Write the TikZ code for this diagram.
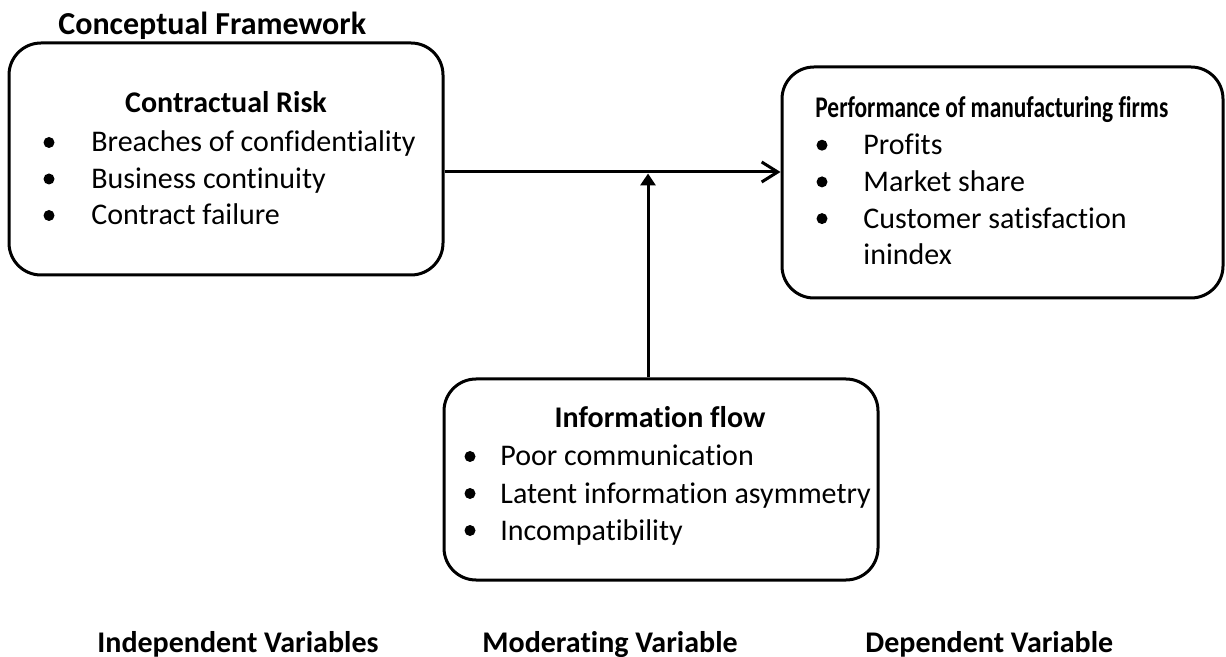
\documentclass[tikz,border=0pt]{standalone}
\usepackage{fontspec}
\setmainfont[Ligatures={NoCommon}]{Carlito}
\usetikzlibrary{arrows.meta}

\begin{document}
\begin{tikzpicture}[
		x=0.5pt, y=-0.5pt,
		every node/.style={font=\fontsize{15}{18}\selectfont},
		box/.style={draw, line width=1.5pt, rounded corners=16pt, inner sep=0pt},
		dot/.style={circle, fill=black, minimum size=5.5pt, inner sep=0pt},
		item/.style={anchor=base west, inner sep=0pt},
		heading/.style={anchor=base, inner sep=0pt, font=\fontsize{15}{18}\selectfont\bfseries},
		caption/.style={anchor=base west, inner sep=0pt, font=\fontsize{15}{18}\selectfont\bfseries},
		link/.style={line width=1.5pt}
		]
		\useasboundingbox (0,0) rectangle (1226,657);
		
		\node[caption, font=\fontsize{16}{19}\selectfont\bfseries] (frame) at (58,35) {Conceptual Framework};
		
		% ---------------------------------------------------------
		% Independent variable: Contractual Risk
		% ---------------------------------------------------------
		\node[box, minimum width=217pt, minimum height=116pt] (risk) at (226,159) {};
		\node[heading] (risk-title) at (226,113) {Contractual Risk};
		\foreach \t [count=\i] in {Breaches of confidentiality, Business continuity, Contract failure} {
			\node[dot] (risk-dot-\i) at (49, 106+36.5*\i) {};
			\node[item] (risk-\i) at (91, 115.5+36.5*\i) {\t};
		}
		
		% ---------------------------------------------------------
		% Dependent variable: Performance
		% ---------------------------------------------------------
		\node[box, minimum width=220.5pt, minimum height=115.5pt] (perf) at (1002.5,182.5) {};
		\node[caption] (perf-title) at (815,118) {\resizebox{176.5pt}{\height}{Performance of manufacturing firms}};
		\foreach \t [count=\i] in {Profits, Market share, Customer satisfaction} {
			\node[dot] (perf-dot-\i) at (822, 108.5+36.7*\i) {};
			\node[item] (perf-\i) at (863, 118+36.7*\i) {\t};
		}
		\node[item] (perf-4) at (863,265) {inindex};
		
		% ---------------------------------------------------------
		% Moderating variable: Information flow
		% ---------------------------------------------------------
		\node[box, minimum width=217pt, minimum height=100.5pt] (flow) at (661,479.5) {};
		\node[heading] (flow-title) at (660,428) {Information flow};
		\foreach \t [count=\i] in {Poor communication, Latent information asymmetry, Incompatibility} {
			\node[dot] (flow-dot-\i) at (470, 419.5+37*\i) {};
			\node[item] (flow-\i) at (500, 429+37*\i) {\t};
		}
		
		% Arrows
		\coordinate (join) at (648,172);
		\draw[link, -{Straight Barb[length=8pt,width=10pt]}] (risk.east |- join) -- (perf.west |- join);
		\draw[link, -{Triangle[length=6pt,width=7.5pt]}, shorten >=0.75pt] (flow.north -| join) -- (join);
		
		% Variable labels
		\node[caption] (indep) at (97,652) {Independent Variables};
		\node[caption] (moder) at (482,652) {Moderating Variable};
		\node[caption] (depen) at (865,652) {Dependent Variable};
		
	\end{tikzpicture}
\end{document}
